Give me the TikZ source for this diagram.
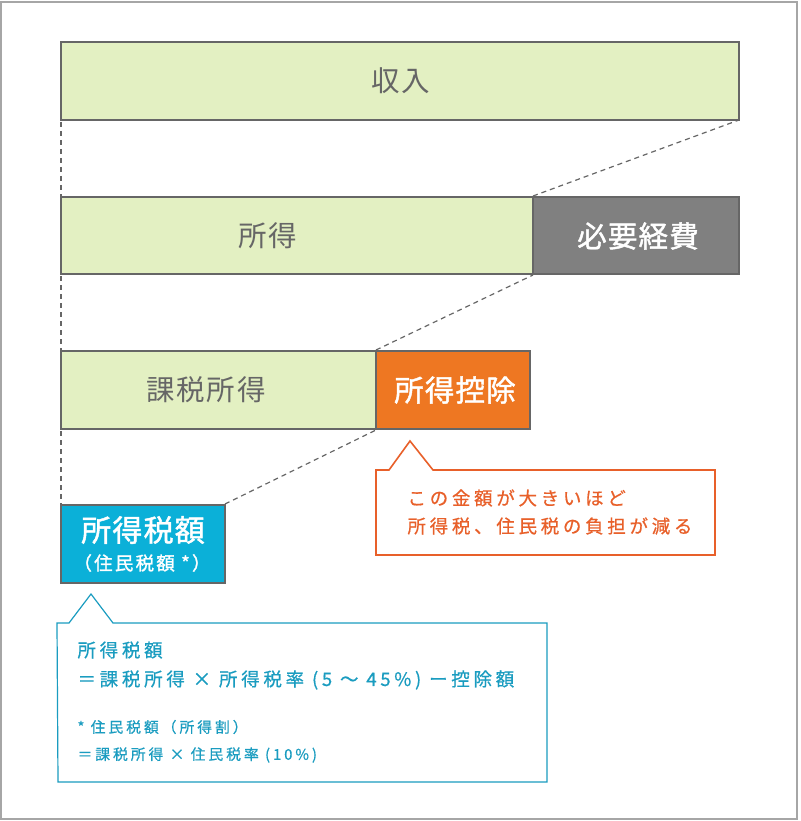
\documentclass[tikz,border=0pt]{standalone}
\usepackage{fontspec}
\setmainfont{Noto Sans CJK JP}
\newfontfamily\jp[LetterSpace=6]{Noto Sans CJK JP}
\newfontfamily\jpsp[LetterSpace=20,FakeBold=0.6]{Noto Sans CJK JP}
\newfontfamily\jpb[LetterSpace=4,FakeBold=1.5]{Noto Sans CJK JP}
\newfontfamily\jpbsp[LetterSpace=12,FakeBold=1.5]{Noto Sans CJK JP}
\definecolor{boxgreen}{HTML}{E3F0C2}
\definecolor{boxline}{HTML}{666666}
\definecolor{txtgray}{HTML}{666666}
\definecolor{expgray}{HTML}{808080}
\definecolor{dedorange}{HTML}{EE7722}
\definecolor{taxcyan}{HTML}{0BB0D8}
\definecolor{callorange}{HTML}{E8602A}
\definecolor{callcyan}{HTML}{1A9CC0}
\begin{document}
\begin{tikzpicture}[x=1pt,y=-1pt,
  bar/.style={draw=boxline,line width=2pt,fill=boxgreen},
  darkbar/.style={draw=boxline,line width=2pt},
  guide/.style={draw=boxline,line width=1.2pt,dash pattern=on 5pt off 4pt},
  lbl/.style={text=txtgray,font=\jp\fontsize{28.5}{30}\selectfont},
  wlbl/.style={text=white,font=\jpb\fontsize{29.5}{30}\selectfont}]
\useasboundingbox (0,0) rectangle (800,821);
\draw[draw=gray!70,line width=1.2pt] (1,2) rectangle (797,819);
% bars
\draw[bar] (61,42) rectangle (739,120);
\node[lbl] (inc) at (401,81) {収入};
\draw[bar] (61,197) rectangle (533,274);
\node[lbl] (inc2) at (268,236) {所得};
\draw[darkbar,fill=expgray] (533,197) rectangle (739,274);
\node[wlbl] (exp) at (638,236) {必要経費};
\draw[bar] (61,351) rectangle (376,429);
\node[lbl] (taxable) at (206,390) {課税所得};
\draw[darkbar,fill=dedorange] (376,351) rectangle (530,429);
\node[wlbl] (ded) at (455,390) {所得控除};
\draw[darkbar,fill=taxcyan] (61,505) rectangle (225,583);
\node[text=white,font=\jpb\fontsize{30}{32}\selectfont] (tax) at (143,530) {所得税額};
\node[text=white,font=\jpbsp\fontsize{18.5}{20}\selectfont] (res) at (142,563) {（住民税額 *）};
% guides
\coordinate (a1) at (61,122); \coordinate (a2) at (61,196);
\coordinate (b1) at (61,276); \coordinate (b2) at (61,350);
\coordinate (c1) at (61,431); \coordinate (c2) at (61,504);
\draw[guide] (a1) -- (a2);
\draw[guide] (b1) -- (b2);
\draw[guide] (c1) -- (c2);
\coordinate (d1) at (739,120); \coordinate (d2) at (533,196);
\coordinate (e1) at (533,275); \coordinate (e2) at (376,350);
\coordinate (f1) at (376,430); \coordinate (f2) at (225,504);
\draw[guide] (d2) -- (d1);
\draw[guide] (e2) -- (e1);
\draw[guide] (f2) -- (f1);
% orange callout
\draw[callorange,line width=1.6pt,fill=white] (376,470) -- (389,470) -- (410,441) -- (433,470) -- (715,470) -- (715,555) -- (376,555) -- cycle;
\node[anchor=west,text=callorange,font=\jpsp\fontsize{18.5}{28}\selectfont,align=left] (note1) at (404,512) {この金額が大きいほど\\所得税、住民税の負担が減る};
% cyan callout
\draw[callcyan,line width=1.2pt,fill=white] (57,623) -- (69,623) -- (91,594) -- (113,623) -- (547,623) -- (547,782) -- (58,782) -- cycle;
\node[anchor=west,text=callcyan,font=\jpsp\fontsize{18.5}{20}\selectfont] (f1t) at (74,650) {所得税額};
\node[anchor=west,text=callcyan,font=\jpsp\fontsize{18.5}{20}\selectfont] (f2t) at (74,680) {＝課税所得 × 所得税率 (5 〜 45\%) ー控除額};
\node[anchor=west,text=callcyan,font=\jpsp\fontsize{14.8}{16}\selectfont] (f3t) at (74,727) {* 住民税額（所得割）};
\node[anchor=west,text=callcyan,font=\jpsp\fontsize{14.8}{16}\selectfont] (f4t) at (74,755) {＝課税所得 × 住民税率 (10\%)};
\end{tikzpicture}
\end{document}
